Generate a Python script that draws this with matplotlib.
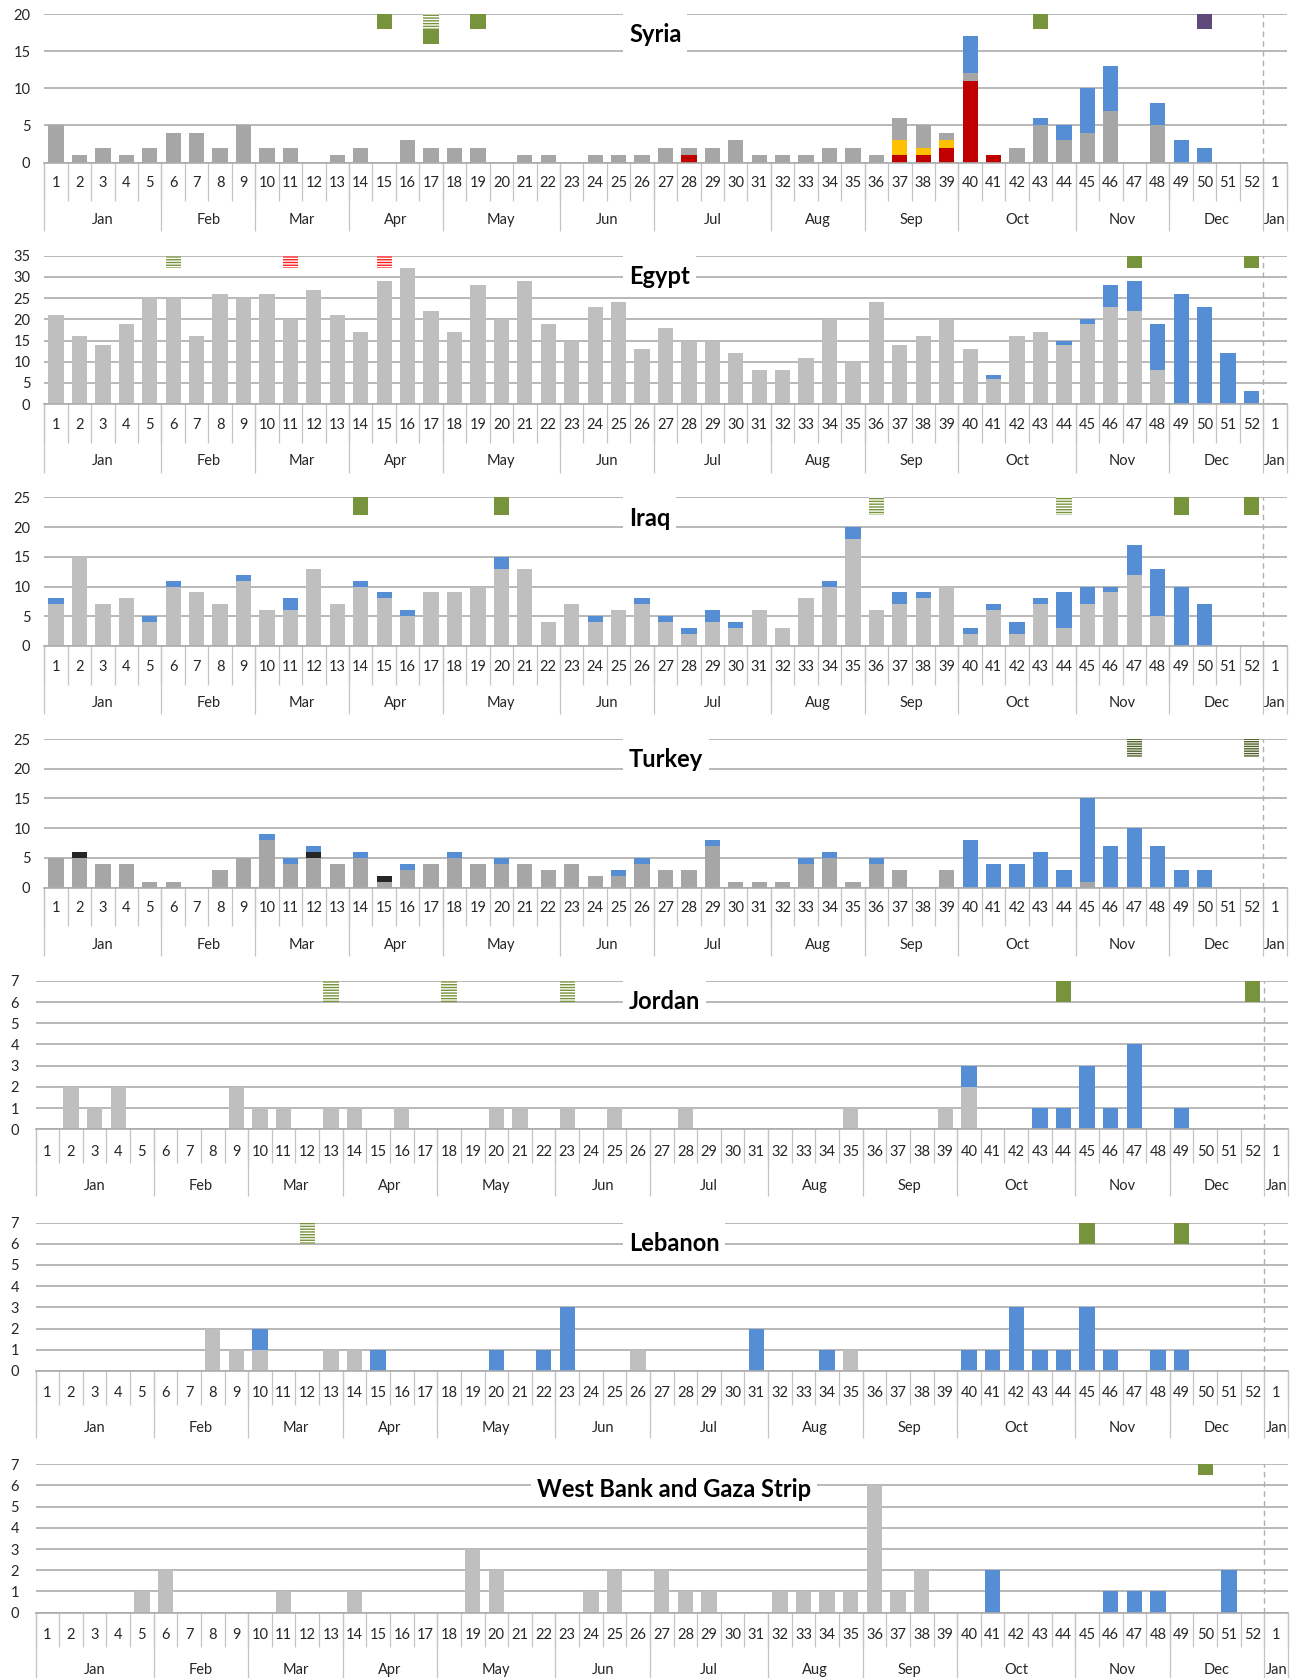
import matplotlib
matplotlib.use('Agg')
import matplotlib.pyplot as plt
from matplotlib.patches import Rectangle
from matplotlib.transforms import blended_transform_factory

plt.rcParams['font.family'] = ['Lato', 'DejaVu Sans']
plt.rcParams['hatch.linewidth'] = 1.0

# categories: weeks of the year plus week 1 of the next year
week_labels = [str(w) for w in range(1, 53)] + ['1']
month_labels = ['Jan', 'Feb', 'Mar', 'Apr', 'May', 'Jun', 'Jul', 'Aug', 'Sep', 'Oct', 'Nov', 'Dec', 'Jan']
month_start = [1, 6, 10, 14, 18, 23, 27, 32, 36, 40, 45, 49, 53]  # first category of each month

# Syria
syria_grey = [5, 1, 2, 1, 2, 4, 4, 2, 5, 2,  2, 0, 1, 2, 0, 3, 2, 2, 2, 0,
              1, 1, 0, 1, 1, 1, 2, 1, 2, 3,  1, 1, 1, 2, 2, 1, 3, 3, 1, 1,
              0, 2, 5, 3, 4, 7, 0, 5, 0, 0,  0, 0, 0]
syria_red = {28: 1, 37: 1, 38: 1, 39: 2, 40: 11, 41: 1}
syria_yellow = {37: 2, 38: 1, 39: 1}
syria_blue = {40: 5, 43: 1, 44: 2, 45: 6, 46: 6, 48: 3, 49: 3, 50: 2}
syria_markers = [(15, 'green', 0), (17, 'green_hatch', 0), (17, 'green', 1),
                 (19, 'green', 0), (43, 'green', 0), (50, 'purple', 0)]

# Egypt
egypt_grey = [21, 16, 14, 19, 25, 25, 16, 26, 25, 26,  20, 27, 21, 17, 29, 32, 22, 17, 28, 20,
              29, 19, 15, 23, 24, 13, 18, 15, 15, 12,  8, 8, 11, 20, 10, 24, 14, 16, 20, 13,
              6, 16, 17, 14, 19, 23, 22, 8, 0, 0,  0, 0, 0]
egypt_blue = {41: 1, 44: 1, 45: 1, 46: 5, 47: 7, 48: 11, 49: 26, 50: 23, 51: 12, 52: 3}
egypt_markers = [(6, 'green_hatch', 0), (11, 'red_hatch', 0), (15, 'red_hatch', 0),
                 (47, 'green', 0), (52, 'green', 0)]

# Iraq
iraq_grey = [7, 15, 7, 8, 4, 10, 9, 7, 11, 6,  6, 13, 7, 10, 8, 5, 9, 9, 10, 13,
             13, 4, 7, 4, 6, 7, 4, 2, 4, 3,  6, 3, 8, 10, 18, 6, 7, 8, 10, 2,
             6, 2, 7, 3, 7, 9, 12, 5, 0, 0,  0, 0, 0]
iraq_blue = {1: 1, 5: 1, 6: 1, 9: 1, 11: 2, 14: 1, 15: 1, 16: 1, 20: 2, 24: 1, 26: 1,
             27: 1, 28: 1, 29: 2, 30: 1, 34: 1, 35: 2, 37: 2, 38: 1, 40: 1, 41: 1,
             42: 2, 43: 1, 44: 6, 45: 3, 46: 1, 47: 5, 48: 8, 49: 10, 50: 7}
iraq_markers = [(14, 'green', 0), (20, 'green', 0), (36, 'green_hatch', 0),
                (44, 'green_hatch', 0), (49, 'green', 0), (52, 'green', 0)]

# Turkey
turkey_grey = [5, 5, 4, 4, 1, 1, 0, 3, 5, 8,  4, 5, 4, 5, 1, 3, 4, 5, 4, 4,
               4, 3, 4, 2, 2, 4, 3, 3, 7, 1,  1, 1, 4, 5, 1, 4, 3, 0, 3, 0,
               0, 0, 0, 0, 1, 0, 0, 0, 0, 0,  0, 0, 0]
turkey_black = {2: 1, 12: 1, 15: 1}
turkey_blue = {10: 1, 11: 1, 12: 1, 14: 1, 16: 1, 18: 1, 20: 1, 25: 1, 26: 1, 29: 1,
               33: 1, 34: 1, 36: 1, 40: 8, 41: 4, 42: 4, 43: 6, 44: 3, 45: 14, 46: 7,
               47: 10, 48: 7, 49: 3, 50: 3}
turkey_markers = [(47, 'dark_hatch', 0), (52, 'dark_hatch', 0)]

# Jordan
jordan_grey = {2: 2, 3: 1, 4: 2, 9: 2, 10: 1, 11: 1, 13: 1, 14: 1, 16: 1, 20: 1, 21: 1,
               23: 1, 25: 1, 28: 1, 35: 1, 39: 1, 40: 2}
jordan_blue = {40: 1, 43: 1, 44: 1, 45: 3, 46: 1, 47: 4, 49: 1}
jordan_markers = [(13, 'green_hatch', 0), (18, 'green_hatch', 0), (23, 'green_hatch', 0),
                  (44, 'green', 0), (52, 'green', 0)]

# Lebanon
lebanon_grey = {8: 2, 9: 1, 10: 1, 13: 1, 14: 1, 26: 1, 35: 1}
lebanon_blue = {10: 1, 15: 1, 20: 1, 22: 1, 23: 3, 31: 2, 34: 1, 40: 1, 41: 1, 42: 3,
                43: 1, 44: 1, 45: 3, 46: 1, 48: 1, 49: 1}
lebanon_markers = [(12, 'green_hatch', 0), (45, 'green', 0), (49, 'green', 0)]

# West Bank and Gaza Strip
wbg_grey = {5: 1, 6: 2, 11: 1, 14: 1, 19: 3, 20: 2, 24: 1, 25: 2, 27: 2, 28: 1, 29: 1,
            32: 1, 33: 1, 34: 1, 35: 1, 36: 6, 37: 1, 38: 2}
wbg_blue = {41: 2, 46: 1, 47: 1, 48: 1, 51: 2}
wbg_markers = [(50, 'green', 0)]

N = len(week_labels)


def dense(d):
    return [d.get(w, 0) for w in range(1, N + 1)]


GREY_D = '#A6A6A6'
GREY_L = '#BFBFBF'
BLUE = '#558ED5'
RED = '#C00000'
YELLOW = '#FFC000'
BLACK = '#262626'

marker_styles = {
    'green': dict(color='#77933C'),
    'purple': dict(color='#604A7B'),
    'green_hatch': dict(facecolor='white', edgecolor='#77933C', hatch='------', linewidth=0),
    'red_hatch': dict(facecolor='white', edgecolor='#FF2020', hatch='------', linewidth=0),
    'dark_hatch': dict(facecolor='white', edgecolor='#4F6228', hatch='-------', linewidth=0),
}

panels = [
    dict(title='Syria', ymax=20, ystep=5, msize=2,
         series=[(syria_red, RED), (syria_yellow, YELLOW), (syria_grey, GREY_D), (syria_blue, BLUE)],
         markers=syria_markers, tx=24.45, ha='left', ty=0.86),
    dict(title='Egypt', ymax=35, ystep=5, msize=3,
         series=[(egypt_grey, GREY_L), (egypt_blue, BLUE)],
         markers=egypt_markers, tx=24.45, ha='left', ty=0.86),
    dict(title='Iraq', ymax=25, ystep=5, msize=3,
         series=[(iraq_grey, GREY_L), (iraq_blue, BLUE)],
         markers=iraq_markers, tx=24.45, ha='left', ty=0.86),
    dict(title='Turkey', ymax=25, ystep=5, msize=3,
         series=[(turkey_grey, GREY_D), (turkey_black, BLACK), (turkey_blue, BLUE)],
         markers=turkey_markers, tx=24.45, ha='left', ty=0.86),
    dict(title='Jordan', ymax=7, ystep=1, msize=1,
         series=[(jordan_grey, GREY_L), (jordan_blue, BLUE)],
         markers=jordan_markers, tx=24.6, ha='left', ty=0.86),
    dict(title='Lebanon', ymax=7, ystep=1, msize=1,
         series=[(lebanon_grey, GREY_L), (lebanon_blue, BLUE)],
         markers=lebanon_markers, tx=24.6, ha='left', ty=0.86),
    dict(title='West Bank and Gaza Strip', ymax=7, ystep=1, msize=0.5,
         series=[(wbg_grey, GREY_L), (wbg_blue, BLUE)],
         markers=wbg_markers, tx=26.5, ha='center', ty=0.83),
]

W, H = 1297.0, 1678.0
fig = plt.figure(figsize=(W / 100, H / 100), dpi=100)
renderer = fig.canvas.get_renderer()

GRID = '#ABABAB'
SEP = '#C4C4C4'
TXT = '#262626'
xs = list(range(N))
month_idx = [m - 1 for m in month_start] + [N]

for i, p in enumerate(panels):
    top_px = 14 + 241.7 * i
    h_px = 148.5
    if i < 4:
        l_px, r_px = 44.3, 1286.6
    else:
        l_px, r_px = 35.5, 1288.0
    ax = fig.add_axes([l_px / W, 1 - (top_px + h_px) / H, (r_px - l_px) / W, h_px / H])
    trans = blended_transform_factory(ax.transData, ax.transAxes)

    # stacked bars
    bottom = [0] * N
    for vals, col in p['series']:
        v = dense(vals) if isinstance(vals, dict) else list(vals)
        ax.bar(xs, v, width=0.65, bottom=bottom, color=col, linewidth=0, zorder=2)
        bottom = [b + x for b, x in zip(bottom, v)]

    # event markers hanging from the top of the axis
    for wk, kind, slot in p['markers']:
        ax.bar(wk - 1, p['msize'], width=0.65,
               bottom=p['ymax'] - p['msize'] * (slot + 1), zorder=2.2,
               **marker_styles[kind])

    ax.set_xlim(-0.5, N - 0.5)
    ax.set_ylim(0, p['ymax'])
    ax.set_yticks(range(0, p['ymax'] + 1, p['ystep']))
    ax.tick_params(axis='y', length=0, pad=10 if i < 4 else 12, labelsize=10.5, labelcolor=TXT)
    ax.set_xticks([])
    ax.yaxis.grid(True, color=GRID, linewidth=1.2)
    ax.set_axisbelow(True)
    for s in ['top', 'left', 'right']:
        ax.spines[s].set_visible(False)
    ax.spines['bottom'].set_color(GRID)
    ax.spines['bottom'].set_linewidth(1.2)

    # year boundary
    ax.plot([N - 1.5, N - 1.5], [0, p['ymax']], color='#B0B0B0', linewidth=1,
            linestyle=(0, (4, 3)), zorder=1.8)

    # two-level category axis
    wk_y, mo_y = (-0.14, -0.385) if i < 4 else (-0.15, -0.385)
    wk_sep, mo_sep = (-0.26, -0.46) if i < 4 else (-0.23, -0.45)
    ax.vlines([k - 0.5 for k in range(N + 1)], wk_sep, 0, transform=trans,
              color=SEP, linewidth=0.9, clip_on=False)
    ax.vlines([k - 0.5 for k in month_idx], mo_sep, 0, transform=trans,
              color=SEP, linewidth=0.9, clip_on=False)
    for k, lab in enumerate(week_labels):
        ax.text(k, wk_y, lab, transform=trans, ha='center', va='center',
                fontsize=10.5, color=TXT)
    for m, lab in enumerate(month_labels):
        c = (month_idx[m] + month_idx[m + 1] - 1) / 2
        ax.text(c, mo_y, lab, transform=trans, ha='center', va='center',
                fontsize=10.5, color=TXT)

    # title with white box over the gridlines
    t = ax.text(p['tx'], p['ty'], p['title'], transform=trans, ha=p['ha'], va='center',
                fontsize=17, fontweight='bold', color='black', zorder=4)
    bb = t.get_window_extent(renderer)
    inv = ax.transData.inverted()
    x0 = inv.transform((bb.x0 - 6, 0))[0]
    x1 = inv.transform((bb.x1 + 6, 0))[0]
    ytop = 1.03 if i < 6 else 0.93
    ax.add_patch(Rectangle((x0, 0.72), x1 - x0, ytop - 0.72, transform=trans,
                           facecolor='white', edgecolor='none', zorder=1.5, clip_on=False))

fig.savefig('out.png', dpi=100, facecolor='white')
